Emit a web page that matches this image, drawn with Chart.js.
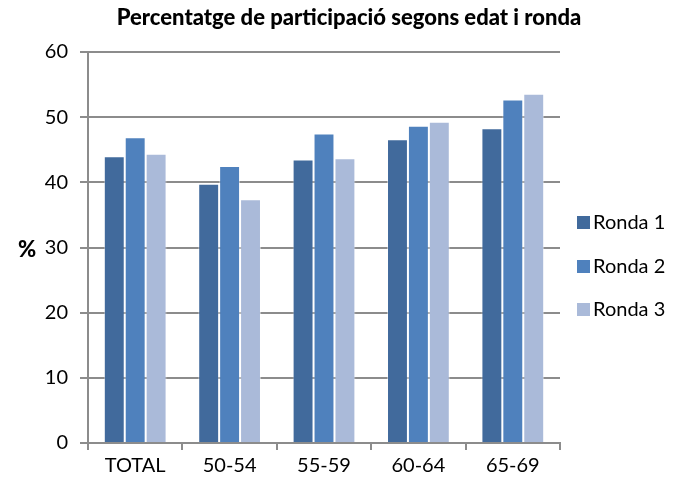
<!DOCTYPE html>
<html>
<head>
<meta charset="utf-8">
<script src="https://cdn.jsdelivr.net/npm/chart.js@4"></script>
<style>
  html, body { margin: 0; padding: 0; background: #fff; }
  #wrap { width: 680px; height: 482px; }
</style>
</head>
<body>
<div id="wrap"><canvas id="c" width="680" height="482"></canvas></div>
<script>
const categories = ['TOTAL', '50-54', '55-59', '60-64', '65-69'];
const ronda1 = [44.0, 39.8, 43.5, 46.6, 48.3];
const ronda2 = [46.9, 42.5, 47.5, 48.7, 52.7];
const ronda3 = [44.4, 37.4, 43.7, 49.3, 53.6];
const seriesNames = ['Ronda 1', 'Ronda 2', 'Ronda 3'];
const yTicks = [0, 10, 20, 30, 40, 50, 60];
const titleText = 'Percentatge de participació segons edat i ronda';
const yTitle = '%';

const FONT = 'Lato, Carlito, "Open Sans", sans-serif';
const colors = ['#416A9C', '#4F81BD', '#AABAD9'];
const gridColor = '#8c8c8c';

const extras = {
  id: 'extras',
  afterDraw(chart) {
    const ctx = chart.ctx;
    ctx.save();
    ctx.fillStyle = '#000';
    ctx.textBaseline = 'middle';
    // title
    ctx.font = '900 22px ' + FONT;
    ctx.textAlign = 'center';
    ctx.fillText(titleText, 349, 18);
    // y title
    ctx.font = '900 22px ' + FONT;
    ctx.fillText(yTitle, 27, 250);
    // legend
    ctx.textAlign = 'left';
    ctx.font = '20px ' + FONT;
    const rows = [222, 266, 309];
    chart.data.datasets.forEach((ds, i) => {
      ctx.fillStyle = ds.backgroundColor;
      ctx.fillRect(577, rows[i] - 6, 13, 13);
      ctx.fillStyle = '#000';
      ctx.fillText(ds.label, 593, rows[i] + 1);
    });
    ctx.restore();
  }
};

new Chart(document.getElementById('c'), {
  type: 'bar',
  data: {
    labels: categories,
    datasets: [ronda1, ronda2, ronda3].map((d, i) => ({
      label: seriesNames[i],
      data: d,
      backgroundColor: colors[i],
      borderColor: 'rgba(255,255,255,0.45)',
      borderWidth: 1,
      borderSkipped: 'bottom',
      categoryPercentage: 0.665,
      barPercentage: 1.0
    }))
  },
  options: {
    responsive: false,
    animation: false,
    devicePixelRatio: 1,
    layout: { padding: { top: 52, right: 120, left: 0, bottom: 0 } },
    plugins: {
      legend: { display: false },
      title: { display: false },
      tooltip: { enabled: false }
    },
    scales: {
      x: {
        afterFit(s) { s.height = 39; },
        grid: {
          offset: true,
          drawOnChartArea: false,
          color: gridColor,
          lineWidth: 2,
          tickLength: 7
        },
        border: { color: gridColor, width: 2 },
        ticks: { color: '#000', font: { family: FONT, size: 20 }, padding: 4 }
      },
      y: {
        min: 0,
        max: 60,
        afterFit(s) { s.width = 88; },
        afterBuildTicks(s) { s.ticks = yTicks.map(v => ({ value: v })); },
        grid: { color: gridColor, lineWidth: 2, tickLength: 8 },
        border: { color: gridColor, width: 2 },
        ticks: { color: '#000', font: { family: FONT, size: 20 }, padding: 12 }
      }
    }
  },
  plugins: [extras]
});
</script>
</body>
</html>
